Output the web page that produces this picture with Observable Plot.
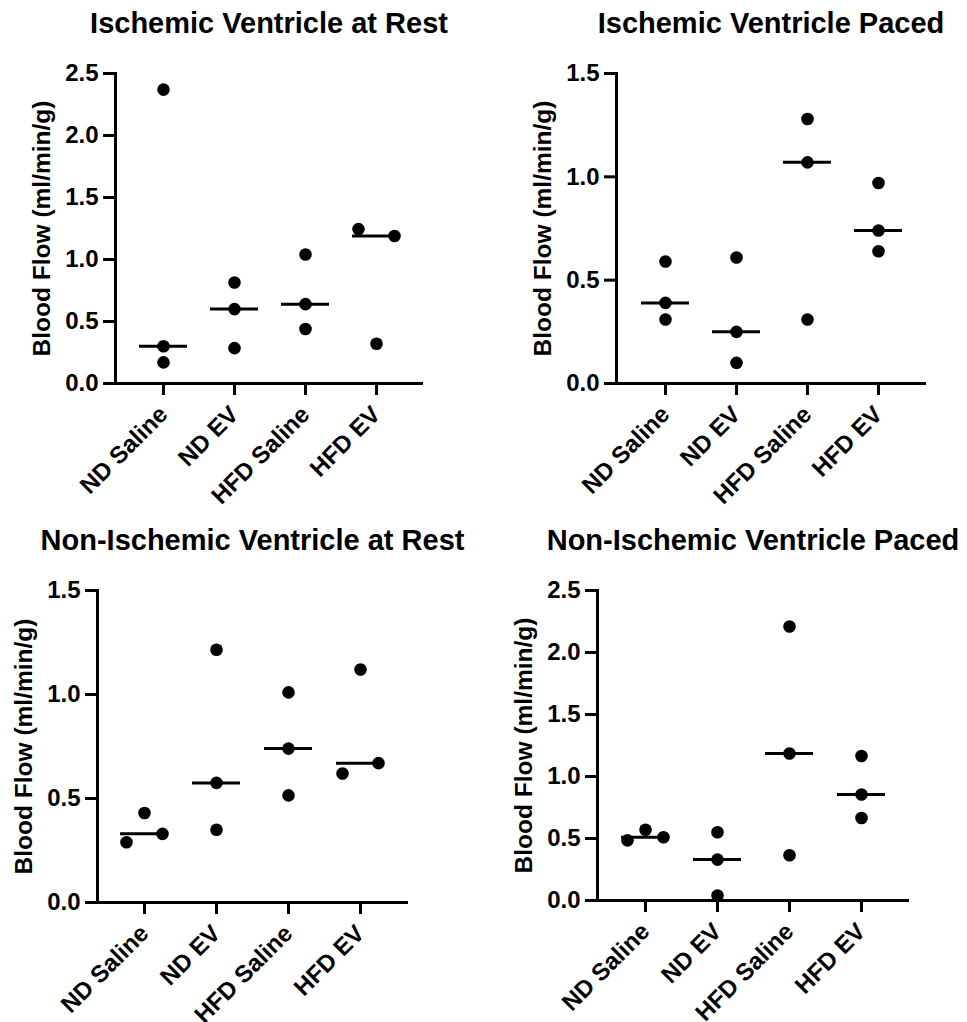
<!DOCTYPE html>
<html><head><meta charset="utf-8">
<script src="https://cdn.jsdelivr.net/npm/d3@7"></script>
<script src="https://cdn.jsdelivr.net/npm/@observablehq/plot@0.6"></script>
<style>
body{margin:0;background:#fff;font-family:"Liberation Sans",Arial,sans-serif;}
#root{position:relative;width:967px;height:1022px;overflow:hidden;}
.cell{position:absolute;}
.title{position:absolute;font-weight:bold;font-size:29px;line-height:29px;text-align:center;white-space:nowrap;color:#000;font-family:"Liberation Sans",Arial,sans-serif;}
</style></head><body><div id="root"></div>
<script>
// ---- data ----
const groups = ["ND Saline", "ND EV", "HFD Saline", "HFD EV"];
const panelTitles = ["Ischemic Ventricle at Rest", "Ischemic Ventricle Paced", "Non-Ischemic Ventricle at Rest", "Non-Ischemic Ventricle Paced"];
const yLabel = "Blood Flow (ml/min/g)";
const ischemicRest = [[2.37, 0.30, 0.17], [0.815, 0.60, 0.285], [1.04, 0.64, 0.44], [1.245, 1.19, 0.32]];
const ischemicPaced = [[0.59, 0.39, 0.31], [0.61, 0.25, 0.10], [1.28, 1.07, 0.31], [0.97, 0.74, 0.64]];
const nonIschemicRest = [[0.29, 0.43, 0.33], [1.215, 0.575, 0.35], [1.01, 0.74, 0.515], [0.62, 1.12, 0.67]];
const nonIschemicPaced = [[0.485, 0.57, 0.51], [0.55, 0.33, 0.04], [2.21, 1.185, 0.365], [1.165, 0.855, 0.665]];
const yTicksWide = [0, 0.5, 1.0, 1.5, 2.0, 2.5];
const yTicksNarrow = [0, 0.5, 1.0, 1.5];

// ---- layout ----
const panels = [
  {values: ischemicRest, ticks: yTicksWide, left: 0, top: 0, width: 480, height: 520, mL: 115, mR: 57, mT: 73, mB: 137, titleTop: 9},
  {values: ischemicPaced, ticks: yTicksNarrow, left: 480, top: 0, width: 487, height: 520, mL: 136, mR: 41, mT: 73, mB: 137, titleTop: 9},
  {values: nonIschemicRest, ticks: yTicksNarrow, left: 0, top: 520, width: 480, height: 502, mL: 97, mR: 72, mT: 70, mB: 120, titleTop: 6},
  {values: nonIschemicPaced, ticks: yTicksWide, left: 480, top: 520, width: 487, height: 502, mL: 117, mR: 58, mT: 70, mB: 122, titleTop: 6}
];

function toRows(values, yMax, plotH) {
  const pxPerUnit = plotH / yMax;
  const out = [];
  values.forEach((vals, g) => {
    const order = vals.map((v, i) => i).sort((a, b) => vals[a] - vals[b]);
    const cluster = new Array(vals.length);
    let c = 0;
    cluster[order[0]] = 0;
    for (let k = 1; k < order.length; k++) {
      if ((vals[order[k]] - vals[order[k - 1]]) * pxPerUnit >= 13) c++;
      cluster[order[k]] = c;
    }
    vals.forEach((v, i) => {
      const members = vals.map((_, j) => j).filter(j => cluster[j] === cluster[i]);
      const k = members.length, pos = members.indexOf(i);
      const slot = k === 1 ? 0 : Math.round((pos / (k - 1) - 0.5) * 2);
      out.push({group: groups[g], value: v, slot});
    });
  });
  return out;
}

const root = document.getElementById("root");
panels.forEach((p, pi) => {
  const yMax = p.ticks[p.ticks.length - 1];
  const plotH = p.height - p.mT - p.mB;
  const rows = toRows(p.values, yMax, plotH);
  const medians = p.values.map((vals, g) => ({group: groups[g], value: d3.median(vals)}));
  const chart = Plot.plot({
    width: p.width, height: p.height,
    marginLeft: p.mL, marginRight: p.mR, marginTop: p.mT, marginBottom: p.mB,
    style: {fontFamily: "'Liberation Sans', Arial, sans-serif", fontSize: "24px", fontWeight: "bold", color: "#000", background: "transparent", overflow: "visible"},
    x: {type: "band", domain: groups, paddingInner: 0.33, paddingOuter: 0.32, label: null},
    y: {domain: [0, yMax], label: null},
    marks: [
      Plot.frame({anchor: "left", strokeWidth: 3, stroke: "#000"}),
      Plot.ruleY([0], {strokeWidth: 3, stroke: "#000"}),
      Plot.axisY({ticks: p.ticks, tickFormat: d3.format(".1f"), tickSize: 12, tickPadding: 5, strokeWidth: 3, fontSize: 24, label: null}),
      Plot.axisX({tickSize: 12, tickRotate: -45, tickPadding: 15, strokeWidth: 3, fontSize: 24, label: null}),
      Plot.tickY(medians, {x: "group", y: "value", strokeWidth: 3, stroke: "#000"}),
      ...[-1, 0, 1].map(s => Plot.dot(rows.filter(d => d.slot === s), {x: "group", y: "value", r: 6.3, fill: "#000", stroke: "none", dx: s * 18})),
      Plot.text([yLabel], {text: d => d, frameAnchor: "left", rotate: -90, dx: -73, textAnchor: "middle", lineAnchor: "middle", fontSize: 24.5, fontWeight: "bold", fill: "#000"})
    ]
  });
  const cell = document.createElement("div");
  cell.className = "cell";
  cell.style.left = p.left + "px";
  cell.style.top = p.top + "px";
  cell.appendChild(chart);
  root.appendChild(cell);
  const t = document.createElement("div");
  t.className = "title";
  const center = p.left + p.mL + (p.width - p.mL - p.mR) / 2;
  t.style.left = (center - 250) + "px";
  t.style.width = "500px";
  t.style.top = (p.top + p.titleTop) + "px";
  t.textContent = panelTitles[pi];
  root.appendChild(t);
});
</script>
</body></html>
